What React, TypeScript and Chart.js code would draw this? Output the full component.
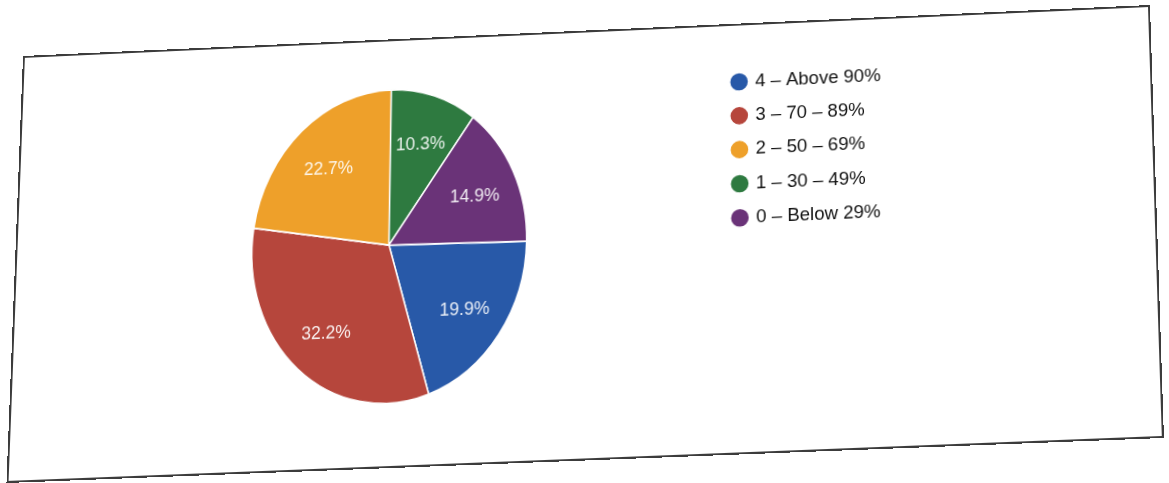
import React, { useEffect, useRef } from "react";
import { Chart, registerables } from "chart.js";

Chart.register(...registerables);

// Data (percentages), listed in legend order
const categories = ["4 – Above 90%", "3 – 70 – 89%", "2 – 50 – 69%", "1 – 30 – 49%", "0 – Below 29%"];
const shares = [19.9, 32.2, 22.7, 10.3, 14.9];
const sliceColors = ["#2859a8", "#b6463c", "#eea02a", "#2e7a40", "#6a3378"];

// Photographed frame (the printout is seen in slight perspective)
const FRAME_W = 1140;
const FRAME_H = 430;
const BORDER = 2;
const CANVAS_W = FRAME_W - 2 * BORDER;
const CANVAS_H = FRAME_H - 2 * BORDER;
const CORNER_TL = [23, 56];
const CORNER_TR = [1150, 5];
const CORNER_BR = [1164, 438];
const CORNER_BL = [6.5, 483];

const SCALE_Y = 1.14; // pie appears slightly taller than wide in the photo
const LABEL_POS = 0.69;
const LABEL_DROP = 3;

const total = shares.reduce((a, b) => a + b, 0);
// the last two slices sit at the top, so the first slice starts after them
const ROTATION = ((shares[3] + shares[4]) / total) * 360;

function quadMatrix(W: number, H: number, p0: number[], p1: number[], p2: number[], p3: number[]) {
  const dx1 = p1[0] - p2[0];
  const dx2 = p3[0] - p2[0];
  const dy1 = p1[1] - p2[1];
  const dy2 = p3[1] - p2[1];
  const sx = p0[0] - p1[0] + p2[0] - p3[0];
  const sy = p0[1] - p1[1] + p2[1] - p3[1];
  const det = dx1 * dy2 - dx2 * dy1;
  const g = (sx * dy2 - dx2 * sy) / det;
  const h = (dx1 * sy - sx * dy1) / det;
  const a = p1[0] - p0[0] + g * p1[0];
  const b = p3[0] - p0[0] + h * p3[0];
  const c = p0[0];
  const d = p1[1] - p0[1] + g * p1[1];
  const e = p3[1] - p0[1] + h * p3[1];
  const f = p0[1];
  return `matrix3d(${a / W},${d / W},0,${g / W},${b / H},${e / H},0,${h / H},0,0,1,0,${c},${f},0,1)`;
}

const ellipsePlugin = {
  id: "ellipsePie",
  beforeDatasetsDraw(chart: any) {
    const arc = chart.getDatasetMeta(0).data[0];
    if (!arc) return;
    const { x, y } = arc;
    const ctx = chart.ctx;
    ctx.save();
    ctx.translate(x, y);
    ctx.scale(1, SCALE_Y);
    ctx.translate(-x, -y);
  },
  afterDatasetsDraw(chart: any) {
    const ctx = chart.ctx;
    ctx.restore();
    const meta = chart.getDatasetMeta(0);
    ctx.save();
    ctx.font = '17.5px "Liberation Sans", Arial, sans-serif';
    ctx.fillStyle = "rgba(255,255,255,0.9)";
    ctx.textAlign = "center";
    ctx.textBaseline = "middle";
    meta.data.forEach((arc: any, i: number) => {
      const { x, y, startAngle, endAngle, outerRadius } = arc.getProps(
        ["x", "y", "startAngle", "endAngle", "outerRadius"],
        true
      );
      const mid = (startAngle + endAngle) / 2;
      const r = outerRadius * LABEL_POS;
      const lx = x + Math.cos(mid) * r;
      const ly = y + Math.sin(mid) * r * SCALE_Y + LABEL_DROP;
      ctx.fillText(`${shares[i].toFixed(1)}%`, lx, ly);
    });
    ctx.restore();
  },
};

export default function App() {
  const ref = useRef<HTMLCanvasElement | null>(null);

  useEffect(() => {
    if (!ref.current) return;
    const chart = new Chart(ref.current, {
      type: "pie",
      data: {
        labels: categories,
        datasets: [
          {
            data: shares,
            backgroundColor: sliceColors,
            borderColor: "#ffffff",
            borderWidth: 1.5,
          },
        ],
      },
      options: {
        responsive: false,
        animation: false,
        rotation: ROTATION,
        radius: 138,
        layout: { padding: { left: 47.7, right: 257.9, top: 32.5, bottom: 44.3 } },
        plugins: {
          tooltip: { enabled: false },
          legend: {
            position: "right",
            align: "start",
            labels: {
              usePointStyle: true,
              pointStyle: "circle",
              boxWidth: 14,
              boxHeight: 13.5,
              padding: 15.8,
              color: "#111111",
              font: { family: '"Liberation Sans", Arial, sans-serif', size: 18.5 },
            },
          },
        },
      },
      plugins: [ellipsePlugin],
    });
    return () => chart.destroy();
  }, []);

  return (
    <div
      style={{
        position: "absolute",
        left: 0,
        top: 0,
        width: FRAME_W,
        height: FRAME_H,
        boxSizing: "border-box",
        border: `${BORDER}px solid #3c3c3c`,
        background: "#ffffff",
        transformOrigin: "0 0",
        transform: quadMatrix(FRAME_W, FRAME_H, CORNER_TL, CORNER_TR, CORNER_BR, CORNER_BL),
      }}
    >
      <canvas
        ref={ref}
        width={CANVAS_W}
        height={CANVAS_H}
        style={{ display: "block", width: CANVAS_W, height: CANVAS_H }}
      />
    </div>
  );
}
